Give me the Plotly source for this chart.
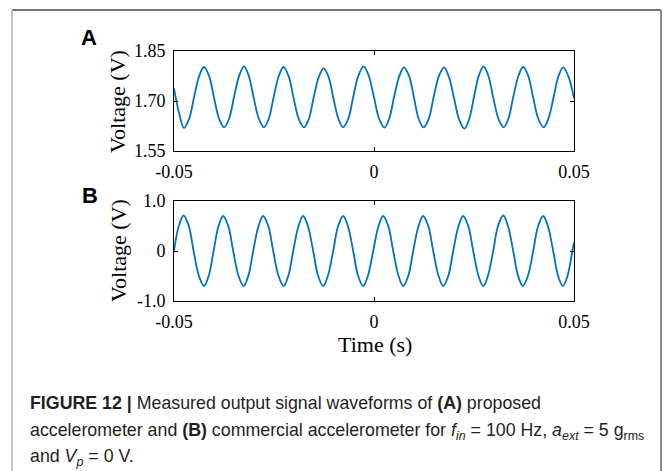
import plotly.graph_objects as go

# ---------------- data ----------------
# Panel A: proposed accelerometer output (V)
a_time = [
    -0.0500, -0.0487,
    -0.0475, -0.0462, -0.0450, -0.0437, -0.0425, -0.0412, -0.0400, -0.0387,
    -0.0375, -0.0362, -0.0350, -0.0337, -0.0325, -0.0313, -0.0301, -0.0288,
    -0.0275, -0.0263, -0.0251, -0.0238, -0.0226, -0.0213, -0.0201, -0.0188,
    -0.0175, -0.0163, -0.0151, -0.0138, -0.0126, -0.0114, -0.0102, -0.0089,
    -0.0077, -0.0064, -0.0052, -0.0039, -0.0026, -0.0013, 0.0000, 0.0013,
    0.0026, 0.0038, 0.0050, 0.0063, 0.0075, 0.0088, 0.0100, 0.0112,
    0.0124, 0.0137, 0.0149, 0.0162, 0.0175, 0.0187, 0.0200, 0.0213,
    0.0226, 0.0238, 0.0250, 0.0262, 0.0274, 0.0286, 0.0298, 0.0311,
    0.0324, 0.0336, 0.0348, 0.0361, 0.0373, 0.0386, 0.0398, 0.0411,
    0.0424, 0.0436, 0.0449, 0.0461, 0.0473, 0.0486, 0.0500,
]
a_volt = [
    1.738, 1.662,
    1.619, 1.647, 1.711, 1.775, 1.802, 1.774, 1.710, 1.646,
    1.621, 1.648, 1.712, 1.776, 1.804, 1.775, 1.711, 1.647,
    1.621, 1.647, 1.711, 1.775, 1.802, 1.773, 1.709, 1.646,
    1.621, 1.646, 1.710, 1.772, 1.798, 1.774, 1.711, 1.647,
    1.621, 1.648, 1.712, 1.776, 1.804, 1.775, 1.711, 1.646,
    1.620, 1.647, 1.711, 1.774, 1.801, 1.774, 1.710, 1.645,
    1.621, 1.647, 1.711, 1.774, 1.801, 1.773, 1.709, 1.644,
    1.617, 1.646, 1.712, 1.776, 1.804, 1.775, 1.711, 1.647,
    1.621, 1.647, 1.711, 1.775, 1.802, 1.774, 1.710, 1.646,
    1.621, 1.647, 1.711, 1.774, 1.801, 1.774, 1.708,
]

# Panel B: commercial accelerometer output (V)
b_time = [
    -0.0500,
    -0.0488, -0.0476, -0.0463, -0.0451, -0.0438, -0.0425, -0.0413, -0.0401,
    -0.0389, -0.0377, -0.0364, -0.0352, -0.0339, -0.0326, -0.0314, -0.0302,
    -0.0289, -0.0277, -0.0264, -0.0252, -0.0239, -0.0226, -0.0214, -0.0202,
    -0.0189, -0.0177, -0.0165, -0.0152, -0.0140, -0.0127, -0.0115, -0.0102,
    -0.0090, -0.0077, -0.0065, -0.0052, -0.0040, -0.0027, -0.0015, -0.0002,
    0.0011, 0.0023, 0.0036, 0.0048, 0.0061, 0.0073, 0.0086, 0.0098,
    0.0111, 0.0123, 0.0136, 0.0148, 0.0161, 0.0173, 0.0186, 0.0198,
    0.0211, 0.0223, 0.0236, 0.0248, 0.0261, 0.0273, 0.0285, 0.0298,
    0.0310, 0.0323, 0.0335, 0.0348, 0.0360, 0.0372, 0.0385, 0.0398,
    0.0410, 0.0423, 0.0435, 0.0448, 0.0460, 0.0472, 0.0484, 0.0496,
    0.0500,
]
b_volt = [
    0.00,
    0.50, 0.71, 0.50, 0.00, -0.49, -0.70, -0.49, 0.00,
    0.49, 0.70, 0.49, 0.00, -0.49, -0.70, -0.49, 0.00,
    0.49, 0.70, 0.49, 0.00, -0.49, -0.70, -0.49, 0.00,
    0.49, 0.70, 0.49, 0.00, -0.49, -0.70, -0.49, 0.00,
    0.49, 0.70, 0.49, 0.00, -0.49, -0.70, -0.49, 0.00,
    0.49, 0.70, 0.49, 0.00, -0.49, -0.70, -0.49, 0.00,
    0.49, 0.70, 0.49, 0.00, -0.49, -0.70, -0.49, 0.00,
    0.49, 0.70, 0.49, 0.00, -0.49, -0.70, -0.49, 0.00,
    0.50, 0.71, 0.50, 0.00, -0.49, -0.70, -0.49, 0.00,
    0.49, 0.70, 0.49, 0.00, -0.49, -0.70, -0.49, 0.00,
    0.17,
]

x_tickvals = [-0.05, 0, 0.05]
x_ticktext = ["-0.05", "0", "0.05"]
a_tickvals = [1.55, 1.70, 1.85]
a_ticktext = ["1.55", "1.70", "1.85"]
b_tickvals = [-1.0, 0, 1.0]
b_ticktext = ["-1.0", "0", "1.0"]

# ---------------- figure ----------------
W, H = 664, 471
LINE = "#0072BD"
SERIF = "Liberation Serif, Times New Roman, serif"
SANS = "Liberation Sans, Arial, sans-serif"


def px(x):
    return x / W


def py(y):
    return 1 - y / H


fig = go.Figure()
fig.add_trace(go.Scatter(x=a_time, y=a_volt, mode="lines", xaxis="x", yaxis="y",
                         line=dict(color=LINE, width=1.8, shape="spline"),
                         showlegend=False, hoverinfo="skip"))
fig.add_trace(go.Scatter(x=b_time, y=b_volt, mode="lines", xaxis="x2", yaxis="y2",
                         line=dict(color=LINE, width=1.8, shape="spline"),
                         showlegend=False, hoverinfo="skip"))

axis_common = dict(showline=True, linecolor="black", linewidth=1, mirror="ticks",
                   ticks="inside", ticklen=4, tickcolor="black", tickwidth=1,
                   showgrid=False, zeroline=False, automargin=False,
                   tickfont=dict(family=SERIF, size=18, color="black"))

xdom = [px(174), px(574)]
fig.update_layout(
    template="none",
    width=W, height=H, margin=dict(l=0, r=0, t=0, b=0, pad=0), autosize=False,
    paper_bgcolor="white", plot_bgcolor="white",
    xaxis=dict(domain=xdom, range=[-0.05, 0.05], anchor="y", ticklabelstandoff=4,
               tickmode="array", tickvals=x_tickvals, ticktext=x_ticktext, **axis_common),
    yaxis=dict(domain=[py(151), py(51)], range=[1.55, 1.85], anchor="x", ticklabelstandoff=4,
               tickmode="array", tickvals=a_tickvals, ticktext=a_ticktext, **axis_common),
    xaxis2=dict(domain=xdom, range=[-0.05, 0.05], anchor="y2", ticklabelstandoff=4,
                tickmode="array", tickvals=x_tickvals, ticktext=x_ticktext, **axis_common),
    yaxis2=dict(domain=[py(301), py(201)], range=[-1.0, 1.0], anchor="x2", ticklabelstandoff=4,
                tickmode="array", tickvals=b_tickvals, ticktext=b_ticktext, **axis_common),
)

ann = []
# y-axis titles
ann.append(dict(x=px(118), y=py(102), text="Voltage (V)", textangle=-90, showarrow=False,
                xref="paper", yref="paper", xanchor="center", yanchor="middle",
                font=dict(family=SERIF, size=22, color="black")))
ann.append(dict(x=px(118), y=py(251), text="Voltage (V)", textangle=-90, showarrow=False,
                xref="paper", yref="paper", xanchor="center", yanchor="middle",
                font=dict(family=SERIF, size=22, color="black")))
# x-axis title
ann.append(dict(x=px(375), y=py(344), text="Time (s)", showarrow=False,
                xref="paper", yref="paper", xanchor="center", yanchor="middle",
                font=dict(family=SERIF, size=22, color="black")))
# panel letters
ann.append(dict(x=px(89), y=py(38), text="<b>A</b>", showarrow=False,
                xref="paper", yref="paper", xanchor="center", yanchor="middle",
                font=dict(family=SANS, size=22, color="black")))
ann.append(dict(x=px(90), y=py(195), text="<b>B</b>", showarrow=False,
                xref="paper", yref="paper", xanchor="center", yanchor="middle",
                font=dict(family=SANS, size=22, color="black")))
# caption
cap_lines = [
    "<b>FIGURE 12 |</b> Measured output signal waveforms of <b>(A)</b> proposed",
    "accelerometer and <b>(B)</b> commercial accelerometer for <i>f</i><sub><i>in</i></sub> = 100 Hz, "
    "<i>a</i><sub><i>ext</i></sub> = 5 g<sub>rms</sub>",
    "and <i>V</i><sub><i>p</i></sub> = 0 V.",
]
cap_y = [403, 431, 457]
for t, yy in zip(cap_lines, cap_y):
    ann.append(dict(x=px(28), y=py(yy), text=t, showarrow=False,
                    xref="paper", yref="paper", xanchor="left", yanchor="middle",
                    font=dict(family=SANS, size=17.8, color="#231f20")))
fig.update_layout(annotations=ann)

# figure frame
shapes = [
    dict(type="line", xref="paper", yref="paper", x0=px(12), x1=px(661), y0=py(10), y1=py(10),
         line=dict(color="#444444", width=1.5)),
    dict(type="line", xref="paper", yref="paper", x0=px(12), x1=px(12), y0=py(10), y1=py(471),
         line=dict(color="#c4c4c4", width=2)),
    dict(type="line", xref="paper", yref="paper", x0=px(661), x1=px(661), y0=py(10), y1=py(471),
         line=dict(color="#8a8a8a", width=2)),
]
fig.update_layout(shapes=shapes)

fig.write_html(
    "out.html",
    config={"displayModeBar": False, "responsive": False},
    post_script="document.body.style.margin='0';document.body.style.overflow='hidden';"
                "document.documentElement.style.overflow='hidden';",
)
